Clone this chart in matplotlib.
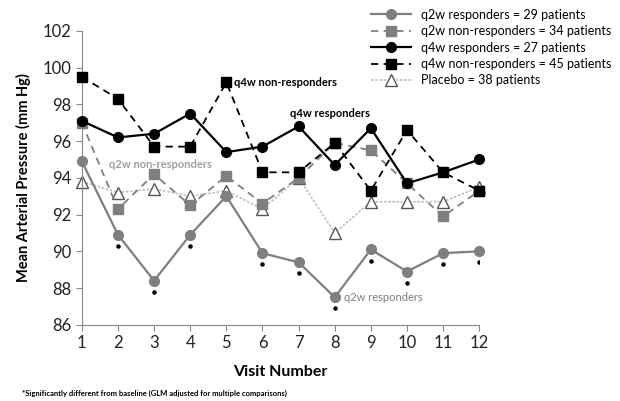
import numpy as np
import matplotlib.pyplot as plt

plt.rcParams['font.family'] = ['Lato', 'DejaVu Sans']

visits = np.arange(1, 13)

# Mean arterial pressure (mm Hg)
q2w_resp = [94.9, 90.9, 88.4, 90.9, 93.0, 89.9, 89.4, 87.5, 90.1, 88.9, 89.9, 90.0]
q2w_nonresp = [97.0, 92.3, 94.2, 92.5, 94.1, 92.6, 94.0, 95.9, 95.5, 93.7, 91.9, 93.3]
q4w_resp = [97.1, 96.2, 96.4, 97.5, 95.4, 95.7, 96.8, 94.7, 96.7, 93.7, 94.3, 95.0]
q4w_nonresp = [99.5, 98.3, 95.7, 95.7, 99.2, 94.3, 94.3, 95.9, 93.3, 96.6, 94.3, 93.3]
placebo = [93.8, 93.2, 93.4, 93.0, 93.3, 92.3, 94.0, 91.0, 92.7, 92.7, 92.7, 93.5]

# visits where q2w responders differ significantly from baseline
sig_visits = [2, 3, 4, 6, 7, 8, 9, 10, 11, 12]

labels = ['q2w responders = 29 patients', 'q2w non-responders = 34 patients',
          'q4w responders = 27 patients', 'q4w non-responders = 45 patients',
          'Placebo = 38 patients']

gray = '#7f7f7f'

fig = plt.figure(figsize=(6.2, 4.01), dpi=100)
ax = fig.add_axes([0.132, 0.19, 0.641, 0.733])

ax.plot(visits, placebo, color='#bdbdbd', lw=1.2, ls=(0, (1.5, 1)), marker='^', ms=8,
        mfc='white', mec='#555555', mew=1.0, label=labels[4], zorder=2)
ax.plot(visits, q2w_resp, color=gray, lw=1.6, marker='o', ms=7, mfc=gray, mec=gray,
        label=labels[0], zorder=3)
ax.plot(visits, q2w_nonresp, color=gray, lw=1.3, ls=(0, (4, 3)), marker='s', ms=7,
        mfc=gray, mec=gray, label=labels[1], zorder=3)
ax.plot(visits, q4w_nonresp, color='black', lw=1.3, ls=(0, (4, 3)), marker='s', ms=7,
        mfc='black', mec='black', label=labels[3], zorder=4)
ax.plot(visits, q4w_resp, color='black', lw=1.6, marker='o', ms=7, mfc='black', mec='black',
        label=labels[2], zorder=5)

# significance markers below q2w responders
sig_y = [q2w_resp[v - 1] - 0.6 for v in sig_visits]
ax.scatter(sig_visits, sig_y, s=5, color='black', zorder=6)

ax.text(5.2, 99.2, 'q4w non-responders', fontsize=8, fontweight='bold', va='center')
ax.text(6.75, 97.5, 'q4w responders', fontsize=8, fontweight='bold', va='center')
ax.text(1.75, 94.75, 'q2w non-responders', fontsize=8, fontweight='bold', color='#a0a0a0',
        va='center')
ax.text(8.25, 87.5, 'q2w responders', fontsize=8, color=gray, va='center')

ax.set_xlim(1, 12)
ax.set_ylim(86, 102)
ax.set_xticks(visits)
ax.set_yticks(np.arange(86, 103, 2))
ax.tick_params(labelsize=12, color='#888888', labelcolor='#222222', length=4, direction='out')
ax.spines['top'].set_visible(False)
ax.spines['right'].set_visible(False)
ax.spines['left'].set_color('#888888')
ax.spines['bottom'].set_color('#888888')
for ln in ax.lines:
    ln.set_clip_on(False)

ax.set_xlabel('Visit Number', fontsize=11.5, fontweight='bold', labelpad=10)
ax.set_ylabel('Mean Arterial Pressure (mm Hg)', fontsize=10.5, fontweight='bold', labelpad=8)

handles, labs = ax.get_legend_handles_labels()
order = [labs.index(l) for l in labels]
fig.legend([handles[i] for i in order], [labs[i] for i in order], loc='upper right',
           bbox_to_anchor=(1.0, 1.0), frameon=False, fontsize=9, handlelength=3.2,
           labelspacing=0.35, borderaxespad=0.3)

fig.text(0.035, 0.012, '*Significantly different from baseline (GLM adjusted for multiple comparisons)',
         fontsize=5.5, fontweight='bold')

fig.savefig('out.png', dpi=100)
